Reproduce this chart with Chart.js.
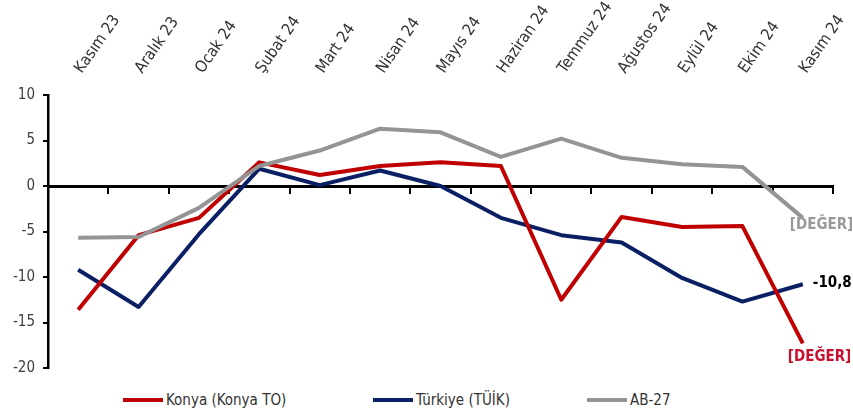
<!DOCTYPE html>
<html>
<head>
<meta charset="utf-8">
<script src="https://cdn.jsdelivr.net/npm/chart.js@4.4.0/dist/chart.umd.min.js"></script>
<style>
    html, body { margin: 0; padding: 0; background: #fff; }
    #wrap { position: relative; width: 853px; height: 415px; }
    #chartBox { position: absolute; left: 0; top: 0; width: 853px; height: 380px; }
    #legend { position: absolute; left: 0; top: 391px; width: 853px; height: 20px; font: 15px 'Liberation Sans Narrow', 'DejaVu Sans Condensed', sans-serif; color: #333; }
    .item { position: absolute; top: 0; display: flex; align-items: center; white-space: nowrap; }
    .swatch { display: inline-block; width: 40px; height: 4px; margin-right: 3px; }
</style>
</head>
<body>
<div id="wrap">
    <div id="chartBox"><canvas id="chart"></canvas></div>
    <div id="legend"></div>
</div>
<script>
const months = ['Kasım 23', 'Aralık 23', 'Ocak 24', 'Şubat 24', 'Mart 24', 'Nisan 24', 'Mayıs 24',
    'Haziran 24', 'Temmuz 24', 'Ağustos 24', 'Eylül 24', 'Ekim 24', 'Kasım 24'];
const konya = [-13.6, -5.4, -3.5, 2.6, 1.2, 2.2, 2.6, 2.2, -12.5, -3.4, -4.5, -4.4, -17.3];
const turkiye = [-9.2, -13.3, -5.3, 1.9, 0.1, 1.7, 0.0, -3.5, -5.4, -6.2, -10.1, -12.7, -10.8];
const ab27 = [-5.7, -5.6, -2.4, 2.2, 3.9, 6.3, 5.9, 3.2, 5.2, 3.1, 2.4, 2.1, -3.5];
const seriesNames = ['Konya (Konya TO)', 'Türkiye (TÜİK)', 'AB-27'];
const endLabels = ['[DEĞER]', '-10,8', '[DEĞER]'];
const yMin = -20, yMax = 10, yStep = 5;

const FONT = "'Liberation Sans Narrow', 'DejaVu Sans Condensed', sans-serif";
const colors = ['#C00000', '#0A1F64', '#949494'];
const labelColors = ['#C8102E', '#000000', '#9A9A9A'];

// label offsets from the last point of each series
const labelOffsets = [[-15, 14], [10, -1], [-13, 7]];

const endLabelPlugin = {
    id: 'endLabels',
    afterDatasetsDraw(chart) {
        const ctx = chart.ctx;
        ctx.save();
        ctx.font = 'bold 15px ' + FONT;
        ctx.textAlign = 'left';
        ctx.textBaseline = 'middle';
        chart.data.datasets.forEach((ds, i) => {
            const meta = chart.getDatasetMeta(i);
            const pt = meta.data[meta.data.length - 1];
            ctx.fillStyle = labelColors[i];
            ctx.fillText(endLabels[i], pt.x + labelOffsets[i][0], pt.y + labelOffsets[i][1]);
        });
        ctx.restore();
    }
};

const ctx = document.getElementById('chart').getContext('2d');
const chart = new Chart(ctx, {
    type: 'line',
    data: {
        labels: months,
        datasets: [
            { label: seriesNames[0], data: konya, borderColor: colors[0], backgroundColor: colors[0], order: 1 },
            { label: seriesNames[1], data: turkiye, borderColor: colors[1], backgroundColor: colors[1], order: 2 },
            { label: seriesNames[2], data: ab27, borderColor: colors[2], backgroundColor: colors[2], order: 0 }
        ]
    },
    options: {
        responsive: true,
        maintainAspectRatio: false,
        animation: false,
        layout: { padding: { left: 0, right: 20, top: 0, bottom: 12 } },
        elements: {
            line: { borderWidth: 4, tension: 0, borderJoinStyle: 'round', fill: false },
            point: { radius: 0, hoverRadius: 0 }
        },
        plugins: {
            legend: { display: false },
            tooltip: { enabled: false }
        },
        scales: {
            x: {
                type: 'category',
                position: 'top',
                offset: true,
                grid: { display: false },
                border: { display: false },
                ticks: {
                    minRotation: 55, maxRotation: 55, padding: 10, labelOffset: 16,
                    color: '#333', font: { family: FONT, size: 16 }
                },
                afterFit(s) { s.height = 95; s.paddingLeft = 0; s.paddingRight = 0; }
            },
            xZero: {
                type: 'category',
                position: { y: 0 },
                offset: true,
                grid: { offset: true, drawOnChartArea: false, drawTicks: true, tickLength: 6, color: '#000', lineWidth: 2 },
                border: { color: '#000', width: 3 },
                ticks: { display: false }
            },
            y: {
                min: yMin, max: yMax,
                grid: { drawOnChartArea: false, drawTicks: true, tickLength: 5, color: '#000', lineWidth: 2 },
                border: { color: '#000', width: 2.5 },
                ticks: { stepSize: yStep, padding: 8, color: '#404040', font: { family: FONT, size: 15 } },
                afterFit(s) { s.width = 48; s.paddingTop = 0; s.paddingBottom = 0; }
            }
        }
    },
    plugins: [endLabelPlugin]
});

// legend drawn as html, colours and names from the datasets
const legendLefts = [123, 373, 587];
const legend = document.getElementById('legend');
chart.data.datasets.forEach((ds, i) => {
    const item = document.createElement('div');
    item.className = 'item';
    item.style.left = legendLefts[i] + 'px';
    item.innerHTML = `<span class="swatch" style="background:${ds.borderColor}"></span>${ds.label}`;
    legend.appendChild(item);
});
</script>
</body>
</html>
